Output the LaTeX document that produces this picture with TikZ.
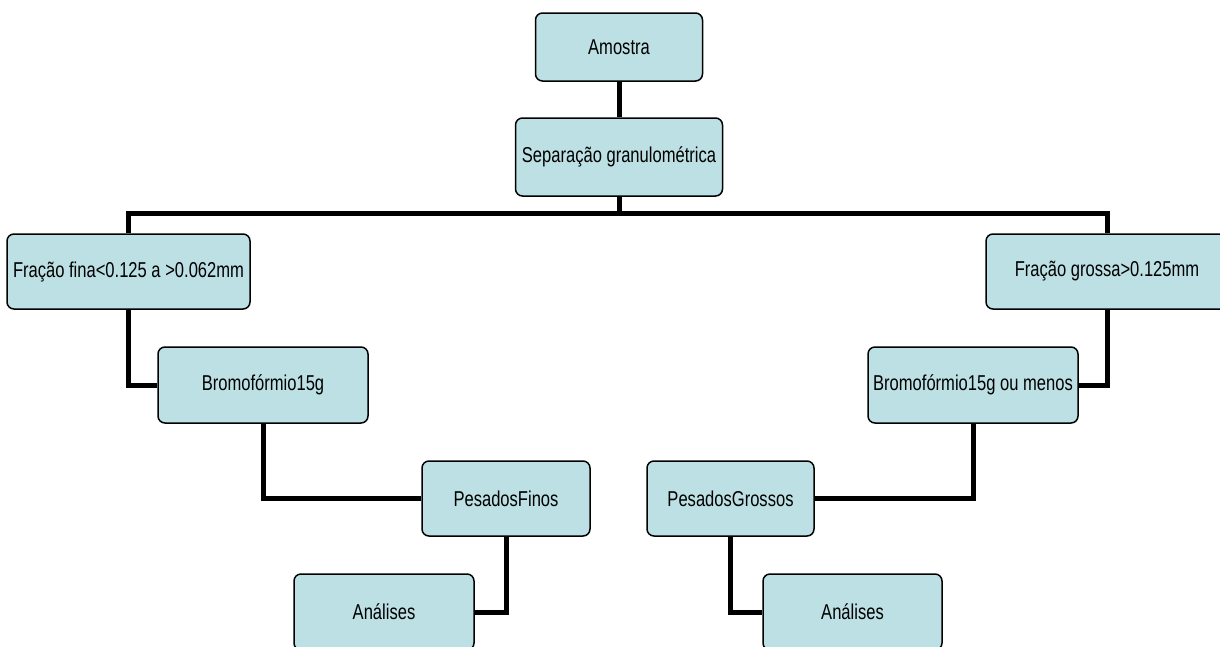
\documentclass[tikz,border=0pt]{standalone}
\usepackage{fontspec}
\newfontfamily\nf{Liberation Sans}[FakeStretch=0.77]
\definecolor{boxfill}{RGB}{188,224,228}
\begin{document}
\begin{tikzpicture}[x=1pt,y=-1pt,
  box/.style={draw=black,line width=1.5pt,fill=boxfill,rounded corners=7pt,
    inner sep=0pt,font=\nf\fontsize{21.5}{24}\selectfont},
  conn/.style={draw=black,line width=5pt,line join=miter}]
\useasboundingbox (0,0) rectangle (1220,646);
\node[box,minimum width=167pt,minimum height=68pt] (amostra) at (619,47) {Amostra};
\node[box,minimum width=207pt,minimum height=78pt] (sep) at (619,157) {Separação granulométrica};
\node[box,minimum width=243pt,minimum height=75pt] (fina) at (128.5,271.5) {Fração fina<0.125 a >0.062mm};
\node[box,minimum width=242pt,minimum height=75pt] (grossa) at (1107,271.5) {Fração grossa>0.125mm};
\node[box,minimum width=210pt,minimum height=76pt] (bromo1) at (263,385) {Bromofórmio15g};
\node[box,minimum width=210pt,minimum height=76pt] (bromo2) at (973,385) {Bromofórmio15g ou menos};
\node[box,minimum width=168pt,minimum height=75pt] (pfinos) at (506,498.5) {PesadosFinos};
\node[box,minimum width=167pt,minimum height=75pt] (pgrossos) at (730.5,498.5) {PesadosGrossos};
\node[box,minimum width=180pt,minimum height=76pt] (an1) at (384,612) {Análises};
\node[box,minimum width=179pt,minimum height=76pt] (an2) at (852.5,612) {Análises};
\coordinate (bar) at (0,213);
\draw[conn] (amostra.south) -- (sep.north);
\draw[conn] (sep.south) -- (sep.south |- bar);
\draw[conn] (fina.north) -- (fina.north |- bar) -- (grossa.north |- bar) -- (grossa.north);
\draw[conn] (fina.south) |- (bromo1.west);
\draw[conn] (grossa.south) |- (bromo2.east);
\draw[conn] (bromo1.south) |- (pfinos.west);
\draw[conn] (bromo2.south) |- (pgrossos.east);
\draw[conn] (pfinos.south) |- (an1.east);
\draw[conn] (pgrossos.south) |- (an2.west);
\end{tikzpicture}
\end{document}
